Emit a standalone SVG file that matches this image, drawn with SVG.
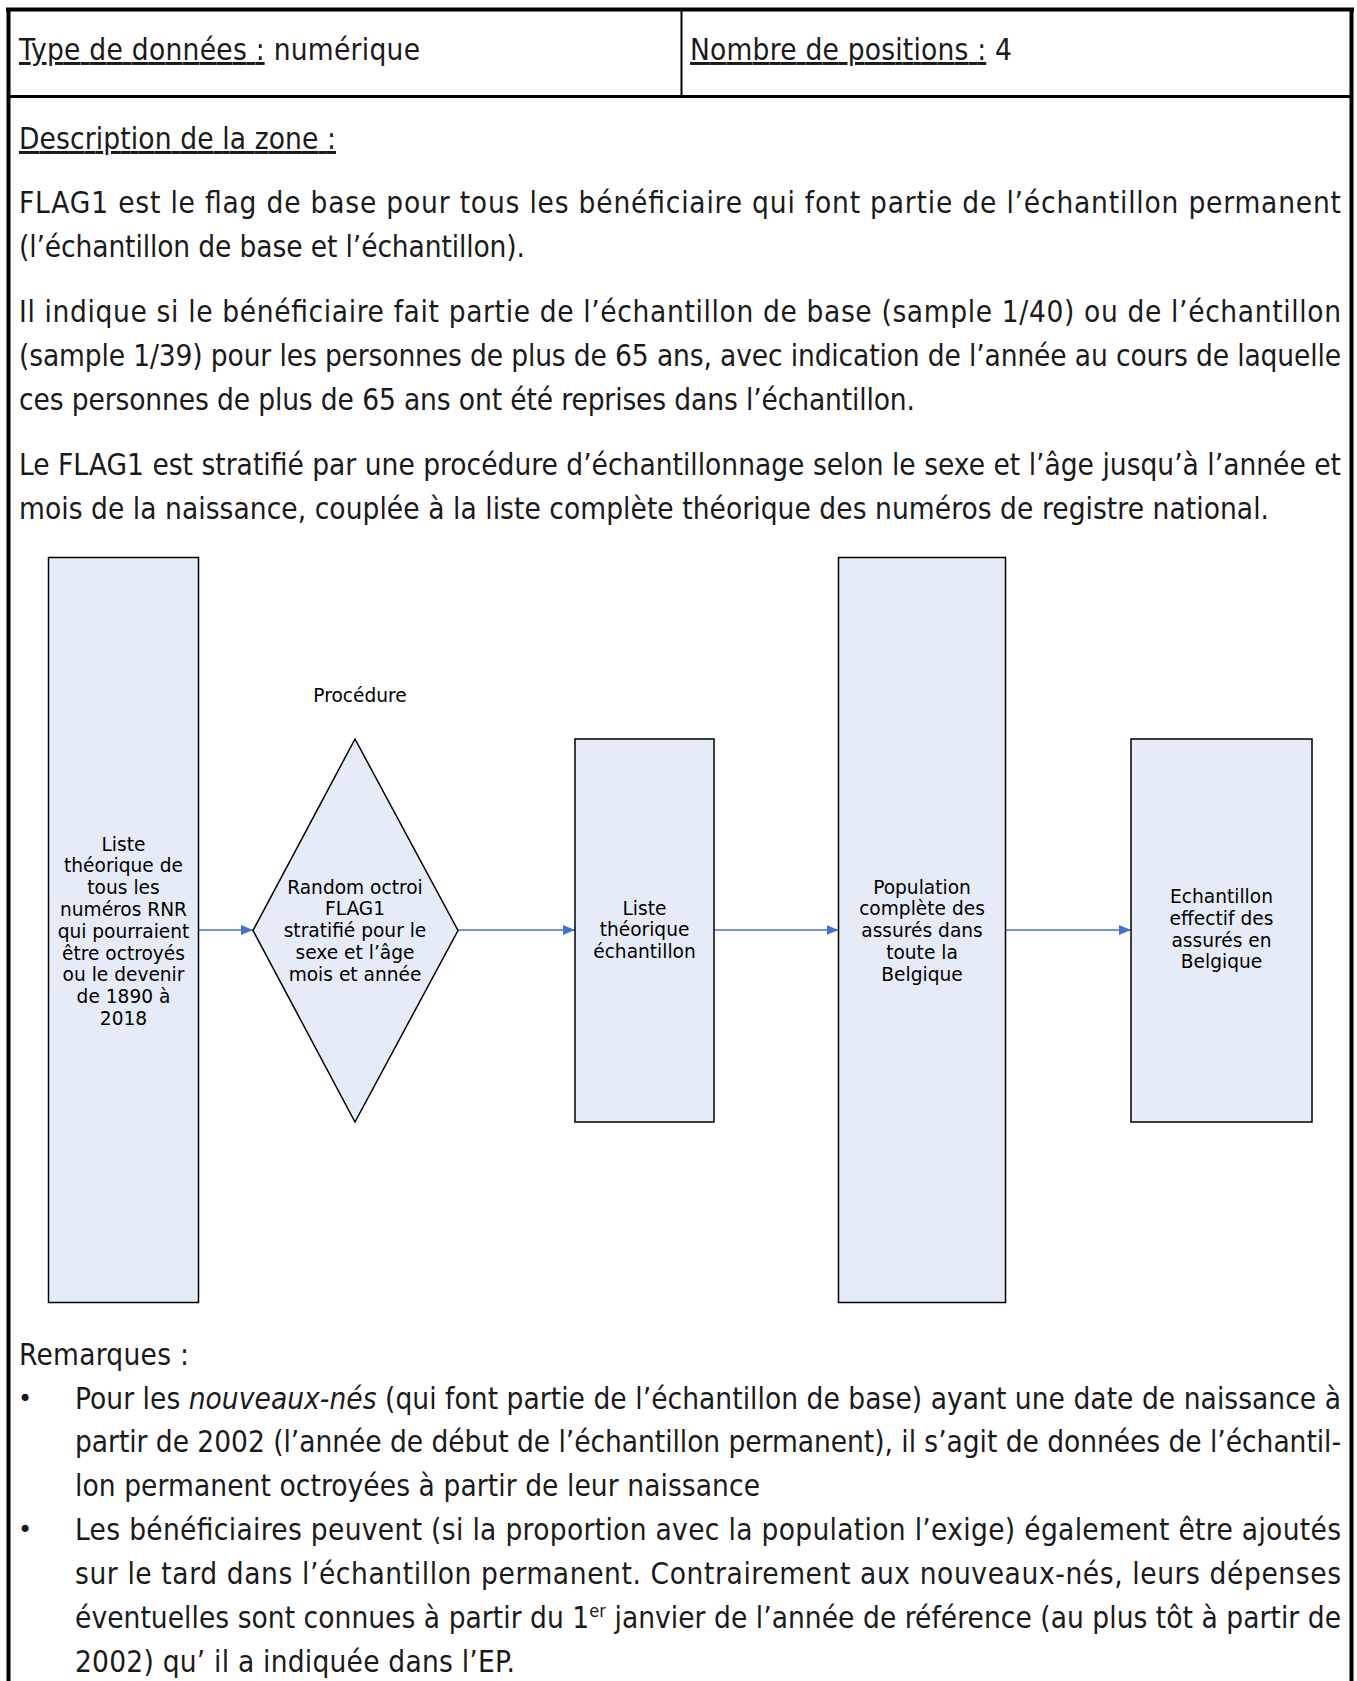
<svg xmlns="http://www.w3.org/2000/svg" width="1357" height="1681" viewBox="0 0 1357 1681">
<defs>
<marker id="arr" markerWidth="12" markerHeight="10" refX="12" refY="5" orient="auto" markerUnits="userSpaceOnUse">
<path d="M0,0 L12,5 L0,10 Z" fill="#4472C4"/>
</marker>
<style>
.body{font-family:"DejaVu Sans Condensed","DejaVu Sans",sans-serif;font-size:29.5px;fill:#1a1a1a}
.u{text-decoration:underline;text-underline-offset:5px;text-decoration-thickness:1.5px}
.bul{font-family:"DejaVu Sans",sans-serif;font-size:24px;fill:#1a1a1a}
.node rect,.node polygon{fill:#E6ECF7;stroke:#000;stroke-width:1.5}
.lbl{font-family:"DejaVu Sans","Verdana",sans-serif;font-size:18.6px;fill:#000;text-anchor:middle}
.conn line{stroke:#4472C4;stroke-width:1.6;marker-end:url(#arr)}
.frame{stroke:#000;fill:none}
</style>
</defs>
<rect width="1357" height="1681" fill="#fff"/>
<g id="frame">
<line class="frame" x1="6" y1="9.5" x2="1354" y2="9.5" stroke-width="4"/>
<line class="frame" x1="8.5" y1="8" x2="8.5" y2="1681" stroke-width="4"/>
<line class="frame" x1="1351.5" y1="8" x2="1351.5" y2="1681" stroke-width="4"/>
<line class="frame" x1="8" y1="96.5" x2="1352" y2="96.5" stroke-width="3"/>
<line class="frame" x1="681.5" y1="10" x2="681.5" y2="96" stroke-width="2"/>
</g>
<g id="header">
<text class="body" x="19" y="60" textLength="401"><tspan class="u">Type de données :</tspan> numérique</text>
<text class="body" x="690" y="60" textLength="322"><tspan class="u">Nombre de positions :</tspan> 4</text>
<text class="body" x="19" y="149" textLength="317"><tspan class="u">Description de la zone :</tspan></text>
</g>
<g id="description">
<text class="body" x="19" y="213" textLength="1322">FLAG1 est le flag de base pour tous les bénéficiaire qui font partie de l’échantillon permanent</text>
<text class="body" x="19" y="257" textLength="506">(l’échantillon de base et l’échantillon).</text>
<text class="body" x="19" y="322" textLength="1322">Il indique si le bénéficiaire fait partie de l’échantillon de base (sample 1/40) ou de l’échantillon</text>
<text class="body" x="19" y="366" textLength="1322">(sample 1/39) pour les personnes de plus de 65 ans, avec indication de l’année au cours de laquelle</text>
<text class="body" x="19" y="410" textLength="896">ces personnes de plus de 65 ans ont été reprises dans l’échantillon.</text>
<text class="body" x="19" y="475" textLength="1322">Le FLAG1 est stratifié par une procédure d’échantillonnage selon le sexe et l’âge jusqu’à l’année et</text>
<text class="body" x="19" y="519" textLength="1250">mois de la naissance, couplée à la liste complète théorique des numéros de registre national.</text>
</g>
<g id="conn" class="conn">
<line x1="198.5" y1="930" x2="253" y2="930"/>
<line x1="458" y1="930" x2="575" y2="930"/>
<line x1="714" y1="930" x2="838.5" y2="930"/>
<line x1="1005.5" y1="930" x2="1131" y2="930"/>
</g>
<g id="n1" class="node">
<rect x="48.5" y="557.5" width="150" height="745"/>
<text class="lbl"><tspan x="123.5" y="850.5">Liste</tspan><tspan x="123.5" y="872.3">théorique de</tspan><tspan x="123.5" y="894.1">tous les</tspan><tspan x="123.5" y="915.9">numéros RNR</tspan><tspan x="123.5" y="937.7">qui pourraient</tspan><tspan x="123.5" y="959.5">être octroyés</tspan><tspan x="123.5" y="981.3">ou le devenir</tspan><tspan x="123.5" y="1003.1">de 1890 à</tspan><tspan x="123.5" y="1024.9">2018</tspan></text>
</g>
<g id="n2" class="node">
<text class="lbl" x="360" y="702">Procédure</text>
<polygon points="355,739 458,930.5 355,1122 253,930.5"/>
<text class="lbl"><tspan x="355" y="893.5">Random octroi</tspan><tspan x="355" y="915.3">FLAG1</tspan><tspan x="355" y="937.1">stratifié pour le</tspan><tspan x="355" y="958.9">sexe et l’âge</tspan><tspan x="355" y="980.7">mois et année</tspan></text>
</g>
<g id="n3" class="node">
<rect x="575" y="739" width="139" height="383"/>
<text class="lbl"><tspan x="644.5" y="914.5">Liste</tspan><tspan x="644.5" y="936.3">théorique</tspan><tspan x="644.5" y="958.1">échantillon</tspan></text>
</g>
<g id="n4" class="node">
<rect x="838.5" y="557.5" width="167" height="745"/>
<text class="lbl"><tspan x="922" y="893.5">Population</tspan><tspan x="922" y="915.3">complète des</tspan><tspan x="922" y="937.1">assurés dans</tspan><tspan x="922" y="958.9">toute la</tspan><tspan x="922" y="980.7">Belgique</tspan></text>
</g>
<g id="n5" class="node">
<rect x="1131" y="739" width="181" height="383"/>
<text class="lbl"><tspan x="1221.5" y="903">Echantillon</tspan><tspan x="1221.5" y="924.8">effectif des</tspan><tspan x="1221.5" y="946.6">assurés en</tspan><tspan x="1221.5" y="968.4">Belgique</tspan></text>
</g>
<g id="remarks">
<text class="body" x="19" y="1365" textLength="170">Remarques :</text>
<text class="bul" x="18" y="1407">•</text>
<text class="body" x="75" y="1409" textLength="1266">Pour les <tspan font-style="italic">nouveaux-nés</tspan> (qui font partie de l’échantillon de base) ayant une date de naissance à</text>
<text class="body" x="75" y="1452" textLength="1266">partir de 2002 (l’année de début de l’échantillon permanent), il s’agit de données de l’échantil-</text>
<text class="body" x="75" y="1496" textLength="685">lon permanent octroyées à partir de leur naissance</text>
<text class="bul" x="18" y="1538">•</text>
<text class="body" x="75" y="1540" textLength="1266">Les bénéficiaires peuvent (si la proportion avec la population l’exige) également être ajoutés</text>
<text class="body" x="75" y="1584" textLength="1266">sur le tard dans l’échantillon permanent. Contrairement aux nouveaux-nés, leurs dépenses</text>
<text class="body" x="75" y="1628" textLength="1266">éventuelles sont connues à partir du 1<tspan font-size="18" dy="-11">er</tspan><tspan dy="11"> janvier de l’année de référence (au plus tôt à partir de</tspan></text>
<text class="body" x="75" y="1672" textLength="440">2002) qu’ il a indiquée dans l’EP.</text>
</g>
</svg>
